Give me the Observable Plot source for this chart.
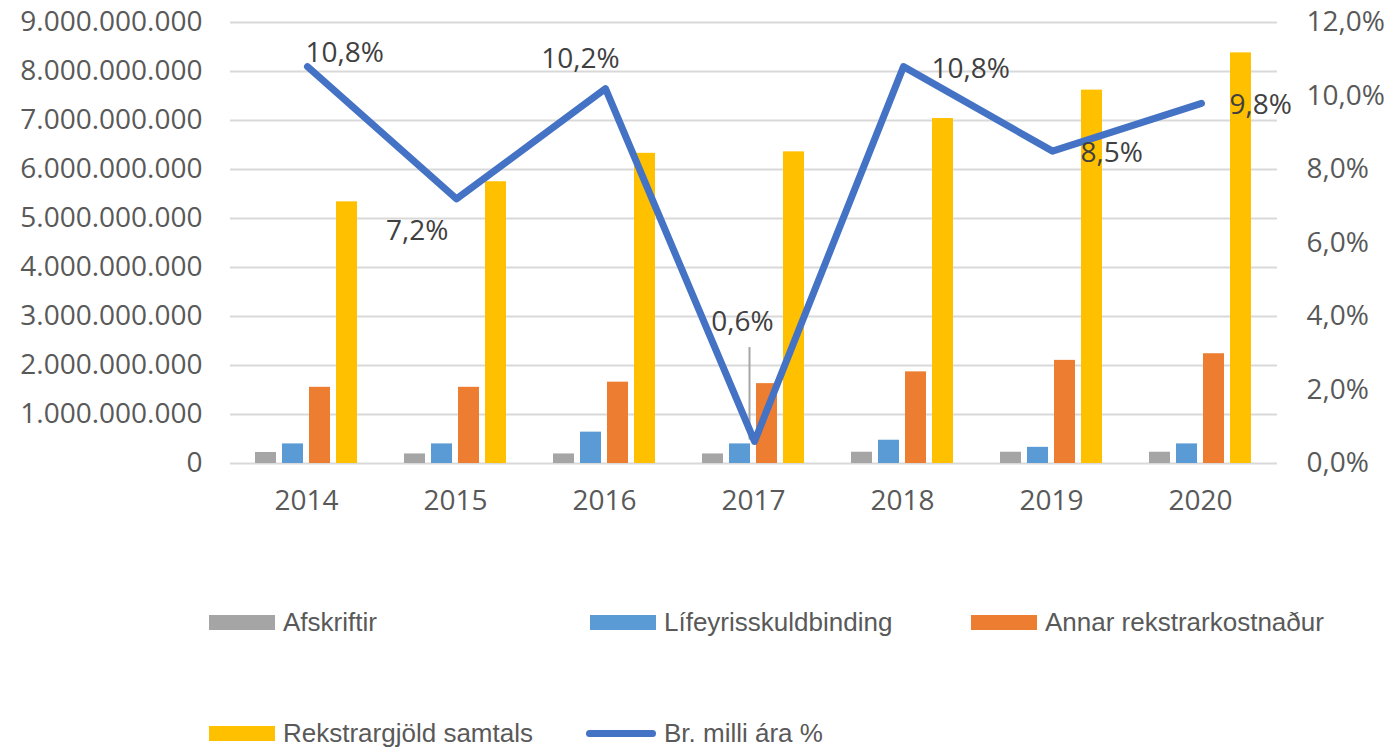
<!DOCTYPE html>
<html>
<head>
<meta charset="utf-8">
<script src="https://cdn.jsdelivr.net/npm/d3@7"></script>
<script src="https://cdn.jsdelivr.net/npm/@observablehq/plot@0.6"></script>
<style>
  body { margin: 0; background: #fff; }
  #wrap { position: relative; width: 1398px; height: 751px; overflow: hidden; background: #fff; }
  #wrap svg { position: absolute; left: 0; top: 0; }
  .leg { position: absolute; height: 32px; display: flex; align-items: center; white-space: nowrap;
         font-family: "Liberation Sans", "Open Sans", sans-serif; font-size: 26px; line-height: 30px; color: #595959; }
  .sw { width: 66px; height: 15px; margin-right: 8px; }
  .ln { width: 70px; height: 7px; border-radius: 4px; margin-right: 8px; }
</style>
</head>
<body>
<div id="wrap"></div>
<script>
// ---- data ----
const years = ["2014", "2015", "2016", "2017", "2018", "2019", "2020"];
const seriesNames = ["Afskriftir", "Lífeyrisskuldbinding", "Annar rekstrarkostnaður", "Rekstrargjöld samtals"];
const afskriftir = [225e6, 195e6, 195e6, 195e6, 230e6, 230e6, 230e6];
const lifeyrisskuldbinding = [400e6, 400e6, 640e6, 400e6, 475e6, 330e6, 400e6];
const annarRekstrarkostnadur = [1555e6, 1555e6, 1660e6, 1630e6, 1870e6, 2105e6, 2240e6];
const rekstrargjoldSamtals = [5340e6, 5750e6, 6330e6, 6360e6, 7040e6, 7620e6, 8380e6];
const breytingMilliAra = [0.108, 0.072, 0.102, 0.006, 0.108, 0.085, 0.098];
const lineName = "Br. milli ára %";
const barColors = ["#A5A5A5", "#5B9BD5", "#ED7D31", "#FFC000"];
const lineColor = "#4472C4";

// ---- tables built from arrays ----
const seriesValues = [afskriftir, lifeyrisskuldbinding, annarRekstrarkostnadur, rekstrargjoldSamtals];
const barRows = [];
years.forEach((y, i) => seriesNames.forEach((s, j) => barRows.push({year: y, series: s, value: seriesValues[j][i]})));
const lineRows = years.map((y, i) => ({year: y, value: breytingMilliAra[i]}));

const W = 1398, H = 530;
const M = {marginLeft: 230, marginRight: 121, marginTop: 22, marginBottom: 67};
const baseStyle = "background: transparent; overflow: visible; font-family: 'Open Sans', sans-serif; font-size: 28px; color: #595959;";
const fmtLeft = d => d3.format(",")(d).replace(/,/g, ".");
const fmtPct = d => (d * 100).toFixed(1).replace(".", ",") + "%";

const wrap = document.getElementById("wrap");

// Layer A: grid + left axis
const gridPlot = Plot.plot({
  width: W, height: H, ...M, style: baseStyle,
  y: {domain: [0, 9e9], ticks: 9, tickFormat: fmtLeft, tickSize: 0, tickPadding: 28, label: null},
  marks: [
    Plot.ruleY(d3.ticks(0, 9e9, 9), {stroke: "#D9D9D9", strokeWidth: 2})
  ]
});
wrap.appendChild(gridPlot);

// Layer B: grouped bars
const barPlot = Plot.plot({
  width: W, height: H, ...M, style: baseStyle,
  fx: {domain: years, paddingInner: 0.3, paddingOuter: 0.15, axis: "bottom", tickSize: 0, tickPadding: 27, label: null},
  x: {domain: seriesNames, paddingInner: 0.24, paddingOuter: 0, axis: null},
  y: {domain: [0, 9e9], axis: null},
  color: {domain: seriesNames, range: barColors},
  marks: [
    Plot.barY(barRows, {fx: "year", x: "series", y: "value", fill: "series"})
  ]
});
wrap.appendChild(barPlot);

// Layer C: line, labels, right axis
const lbl = (ys, opts) => Plot.text(lineRows.filter(d => ys.includes(d.year)), {
  x: "year", y: "value", text: d => fmtPct(d.value), fill: "#404040", fontSize: 28, ...opts
});
const linePlot = Plot.plot({
  width: W, height: H, ...M, style: baseStyle,
  x: {type: "point", domain: years, padding: 0.5, axis: null},
  y: {domain: [0, 0.12], axis: "right", ticks: 6, tickFormat: fmtPct, tickSize: 0, tickPadding: 29, label: null},
  marks: [
    Plot.link(lineRows.filter(d => d.year === "2017"), {
      x1: "year", x2: "year", y1: d => d.value + 0.0005, y2: d => d.value + 0.0257,
      dx: -5, stroke: "#A6A6A6", strokeWidth: 2
    }),
    Plot.line(lineRows, {x: "year", y: "value", stroke: lineColor, strokeWidth: 7, strokeLinejoin: "round", strokeLinecap: "round"}),
    lbl(["2014"], {textAnchor: "start", dx: -2, dy: -14}),
    lbl(["2015"], {textAnchor: "end", dx: -8, dy: 32}),
    lbl(["2016"], {textAnchor: "middle", dx: -25, dy: -30}),
    lbl(["2017"], {textAnchor: "middle", dx: -12, dy: -119}),
    lbl(["2018", "2019", "2020"], {textAnchor: "start", dx: 28, dy: 2})
  ]
});
wrap.appendChild(linePlot);

// Legend
const legendItems = [
  {name: seriesNames[0], color: barColors[0], kind: "sw", left: 209, cy: 622},
  {name: seriesNames[1], color: barColors[1], kind: "sw", left: 590, cy: 622},
  {name: seriesNames[2], color: barColors[2], kind: "sw", left: 971, cy: 622},
  {name: seriesNames[3], color: barColors[3], kind: "sw", left: 209, cy: 733},
  {name: lineName, color: lineColor, kind: "ln", left: 586, cy: 733}
];
legendItems.forEach(it => {
  const d = document.createElement("div");
  d.className = "leg";
  d.style.left = it.left + "px";
  d.style.top = (it.cy - 16) + "px";
  const s = document.createElement("span");
  s.className = it.kind;
  s.style.background = it.color;
  const t = document.createElement("span");
  t.textContent = it.name;
  d.appendChild(s); d.appendChild(t);
  wrap.appendChild(d);
});
</script>
</body>
</html>
